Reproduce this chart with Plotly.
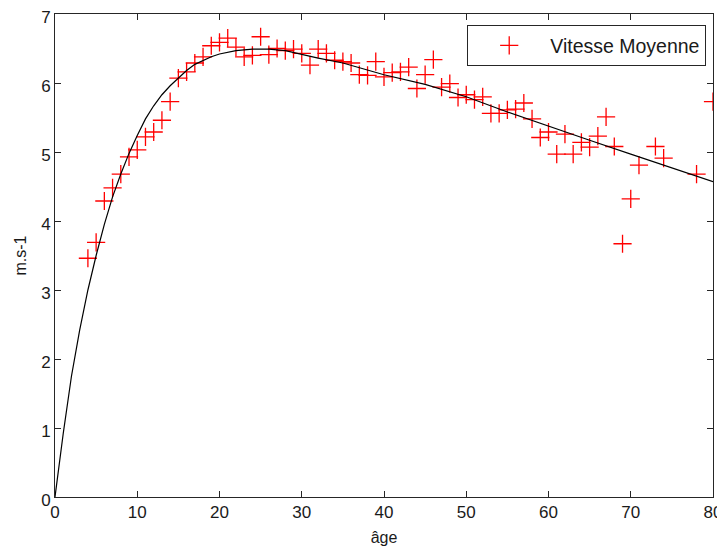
import plotly.graph_objects as go

ages = [4, 5, 6, 7, 8, 9, 10, 11, 12, 13, 14, 15, 16, 17, 18, 19, 20, 21, 22, 23,
        24, 25, 26, 27, 28, 29, 30, 31, 32, 33, 34, 35, 36, 37, 38, 39, 40, 41, 42, 43,
        44, 45, 46, 47, 48, 49, 50, 51, 52, 53, 54, 55, 56, 57, 58, 59, 60, 61, 62, 63,
        64, 65, 66, 67, 68, 69, 70, 71, 73, 74, 78, 80]
speeds = [3.46, 3.69, 4.29, 4.48, 4.68, 4.93, 5.03, 5.22, 5.29, 5.46, 5.73, 6.07, 6.16, 6.29, 6.38, 6.54, 6.59, 6.65, 6.52, 6.38,
          6.40, 6.67, 6.41, 6.50, 6.47, 6.49, 6.43, 6.26, 6.49, 6.43, 6.33, 6.31, 6.29, 6.12, 6.11, 6.31, 6.09, 6.15, 6.16, 6.23,
          5.92, 6.12, 6.34, 5.94, 5.99, 5.79, 5.83, 5.76, 5.80, 5.56, 5.56, 5.61, 5.62, 5.71, 5.48, 5.21, 5.29, 4.97, 5.26, 4.97,
          5.14, 5.07, 5.23, 5.51, 5.08, 3.67, 4.32, 4.81, 5.08, 4.91, 4.68, 5.73]

fit_ages = [0, 1, 2, 3, 4, 5, 6, 7, 8, 9, 10, 11, 12, 13, 14, 15, 16, 17, 18, 19, 20,
            22, 24, 26, 28, 30, 32, 35, 40, 45, 50, 55, 60, 65, 70, 75, 80]
fit_speeds = [0.0, 0.92, 1.75, 2.42, 3.0, 3.5, 3.95, 4.35, 4.68, 4.98, 5.24, 5.48, 5.67, 5.83, 5.96, 6.07, 6.18, 6.27, 6.33, 6.38, 6.42,
              6.47, 6.49, 6.49, 6.47, 6.41, 6.36, 6.29, 6.12, 5.98, 5.80, 5.58, 5.37, 5.17, 4.97, 4.77, 4.57]

x_ticks = [0, 10, 20, 30, 40, 50, 60, 70, 80]
y_ticks = [0, 1, 2, 3, 4, 5, 6, 7]

FONT = "Liberation Sans, Arial, sans-serif"

fig = go.Figure()
fig.add_trace(go.Scatter(
    x=ages, y=speeds, mode="markers", name="Vitesse Moyenne",
    marker=dict(symbol="cross-thin", size=13, color="red",
                line=dict(color="red", width=1.3)),
))
fig.add_trace(go.Scatter(
    x=fit_ages, y=fit_speeds, mode="lines", showlegend=False,
    line=dict(color="black", width=1.2),
))

axis_common = dict(
    showgrid=False, zeroline=False, showline=True, linecolor="#262626", linewidth=1,
    mirror="ticks", ticks="inside", ticklen=6, tickcolor="#262626", tickwidth=1,
    tickfont=dict(family=FONT, size=17, color="#1a1a1a"), automargin=False,
    ticklabeloverflow="allow",
)

fig.update_xaxes(range=[0, 80], tickvals=x_ticks, ticktext=[str(v) for v in x_ticks],
                 title=dict(text="âge", font=dict(family=FONT, size=16, color="#1a1a1a"), standoff=10),
                 **axis_common)
fig.update_yaxes(range=[0, 7], tickvals=y_ticks, ticktext=[str(v) for v in y_ticks],
                 title=dict(text="m.s-1", font=dict(family=FONT, size=16, color="#1a1a1a"), standoff=10),
                 ticklabelshift=3,
                 **axis_common)

fig.update_layout(
    width=717, height=546,
    margin=dict(l=47, r=12, t=6, b=57),
    paper_bgcolor="white", plot_bgcolor="white",
    font=dict(family=FONT, size=16, color="#1a1a1a"),
    legend=dict(x=0.9897, y=0.977, xanchor="right", yanchor="top",
                bordercolor="#262626", borderwidth=1, bgcolor="white",
                font=dict(family=FONT, size=19.5, color="#1a1a1a"),
                itemwidth=72),
)

fig.write_html("out.html")
